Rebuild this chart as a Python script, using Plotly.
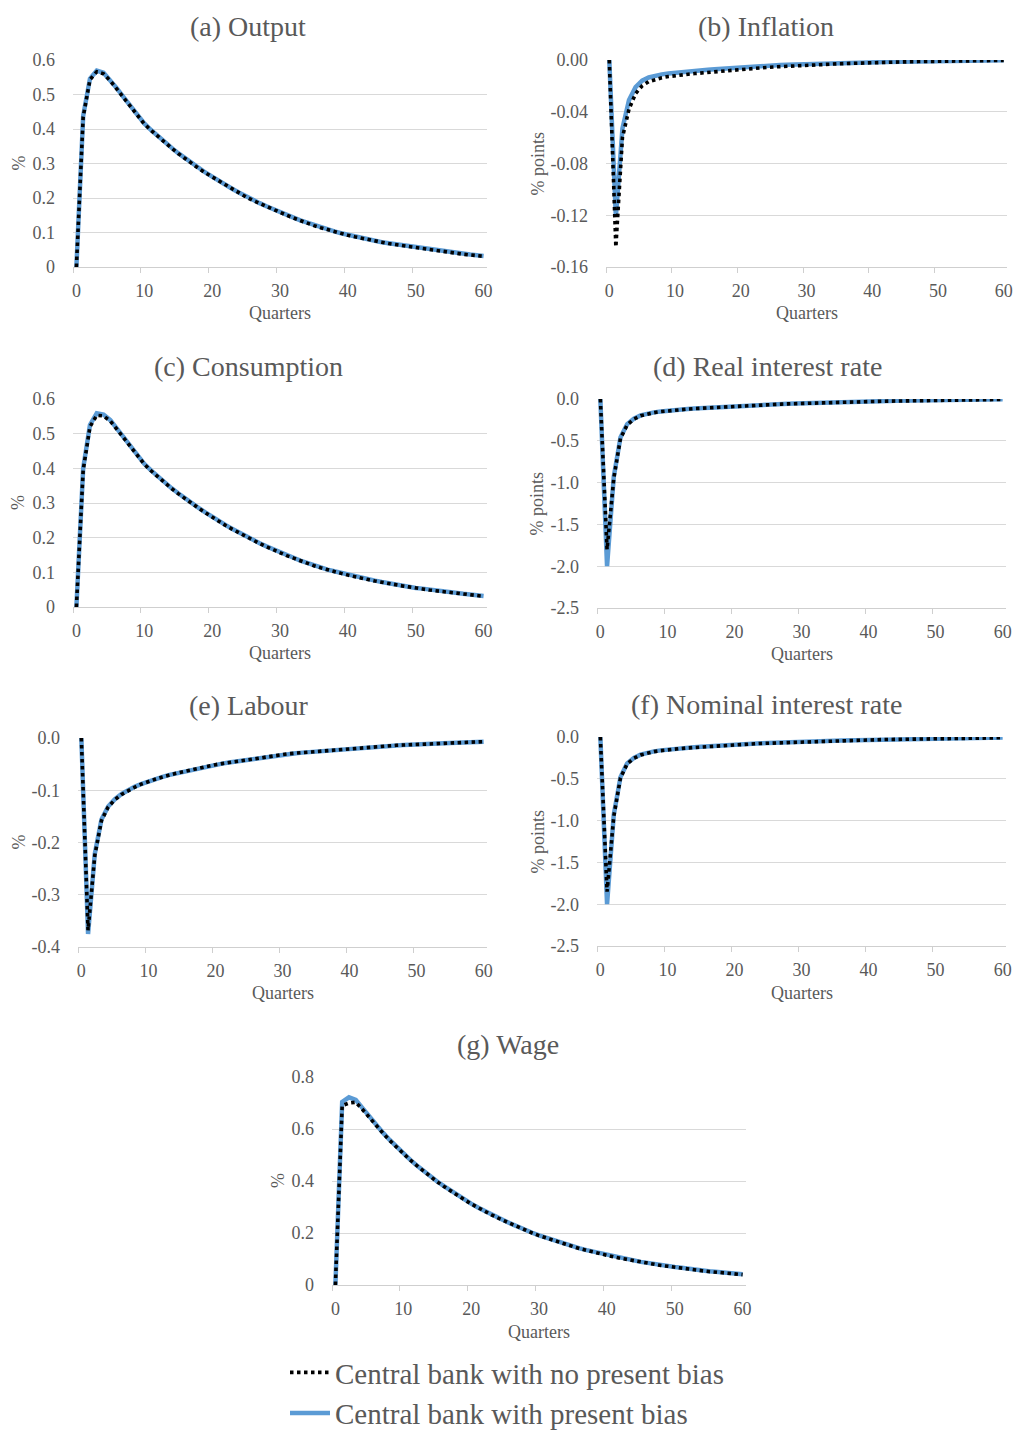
import plotly.graph_objects as go

W, H = 1014, 1430

# ---------------- data ----------------
quarters = list(range(61))
x_tick_vals = [0, 10, 20, 30, 40, 50, 60]
x_tick_text = ["0", "10", "20", "30", "40", "50", "60"]

output_nb = [0, 0.435, 0.543, 0.566, 0.56, 0.54, 0.515, 0.49, 0.464, 0.439, 0.415,
             0.396, 0.378, 0.361, 0.345, 0.329, 0.314, 0.300, 0.286, 0.273, 0.261,
             0.248, 0.236, 0.225, 0.214, 0.203, 0.193, 0.184, 0.175, 0.166, 0.158,
             0.150, 0.142, 0.134, 0.127, 0.120, 0.114, 0.108, 0.102, 0.097, 0.092,
             0.0875, 0.083, 0.079, 0.075, 0.072, 0.068, 0.065, 0.062, 0.059, 0.056,
             0.053, 0.050, 0.047, 0.044, 0.042, 0.039, 0.037, 0.035, 0.033, 0.031]
output_pb = [0, 0.438, 0.546, 0.569, 0.563, 0.542, 0.517, 0.491, 0.465, 0.440, 0.416,
             0.397, 0.379, 0.362, 0.346, 0.330, 0.315, 0.301, 0.287, 0.274, 0.262,
             0.249, 0.237, 0.226, 0.215, 0.204, 0.194, 0.185, 0.176, 0.167, 0.159,
             0.151, 0.143, 0.135, 0.128, 0.121, 0.115, 0.109, 0.103, 0.098, 0.093,
             0.088, 0.084, 0.080, 0.076, 0.072, 0.069, 0.066, 0.063, 0.060, 0.057,
             0.054, 0.051, 0.048, 0.045, 0.043, 0.040, 0.038, 0.036, 0.034, 0.032]

inflation_nb = [0, -0.1445, -0.06, -0.038, -0.026, -0.02, -0.0167, -0.0149, -0.0137, -0.0128, -0.012,
                -0.0115, -0.011, -0.0105, -0.01, -0.0095, -0.009, -0.0086, -0.0082, -0.0077, -0.0073,
                -0.0069, -0.0065, -0.0061, -0.0057, -0.0054, -0.0051, -0.0047, -0.0044, -0.0042, -0.0039,
                -0.0037, -0.0035, -0.0033, -0.0031, -0.0029, -0.0027, -0.0025, -0.0023, -0.0022, -0.002,
                -0.0019, -0.0018, -0.0016, -0.0015, -0.0014, -0.0013, -0.0012, -0.0011, -0.001, -0.0009,
                -0.0008, -0.0008, -0.0007, -0.0006, -0.0006, -0.0005, -0.0005, -0.0004, -0.0004, -0.0003]
inflation_pb = [0, -0.121, -0.053, -0.031, -0.021, -0.016, -0.0135, -0.012, -0.0111, -0.0104, -0.0098,
                -0.0093, -0.0088, -0.0083, -0.0079, -0.0075, -0.0071, -0.0067, -0.0063, -0.0059, -0.0055,
                -0.0052, -0.0049, -0.0046, -0.0043, -0.0041, -0.0039, -0.0037, -0.0035, -0.0033, -0.0031,
                -0.0029, -0.0028, -0.0026, -0.0025, -0.0023, -0.0022, -0.0021, -0.002, -0.0019, -0.0018,
                -0.0017, -0.0016, -0.0015, -0.0014, -0.0013, -0.0012, -0.0011, -0.001, -0.0009, -0.0008,
                -0.0007, -0.0007, -0.0006, -0.0005, -0.0005, -0.0004, -0.0004, -0.0003, -0.0003, -0.0002]

consumption_nb = [0, 0.395, 0.52, 0.553, 0.551, 0.536, 0.512, 0.487, 0.461, 0.436, 0.412,
                  0.393, 0.375, 0.358, 0.342, 0.327, 0.312, 0.298, 0.285, 0.272, 0.259,
                  0.247, 0.235, 0.224, 0.213, 0.202, 0.192, 0.183, 0.174, 0.165, 0.156,
                  0.148, 0.141, 0.133, 0.126, 0.119, 0.113, 0.107, 0.102, 0.097, 0.092,
                  0.087, 0.083, 0.079, 0.075, 0.071, 0.067, 0.064, 0.061, 0.058, 0.054,
                  0.052, 0.049, 0.047, 0.044, 0.042, 0.039, 0.037, 0.035, 0.033, 0.031]
consumption_pb = [0, 0.400, 0.525, 0.559, 0.555, 0.539, 0.514, 0.489, 0.463, 0.437, 0.413,
                  0.394, 0.376, 0.359, 0.343, 0.328, 0.313, 0.299, 0.286, 0.273, 0.260,
                  0.248, 0.236, 0.225, 0.214, 0.203, 0.193, 0.184, 0.175, 0.166, 0.157,
                  0.149, 0.142, 0.134, 0.127, 0.120, 0.114, 0.108, 0.103, 0.098, 0.093,
                  0.088, 0.084, 0.080, 0.076, 0.072, 0.068, 0.065, 0.062, 0.059, 0.055,
                  0.053, 0.050, 0.048, 0.045, 0.043, 0.040, 0.038, 0.036, 0.034, 0.032]

real_nb = [0, -1.8, -0.95, -0.47, -0.31, -0.24, -0.2, -0.178, -0.163, -0.151, -0.141,
           -0.134, -0.127, -0.121, -0.115, -0.11, -0.105, -0.1, -0.095, -0.09, -0.086,
           -0.082, -0.078, -0.074, -0.071, -0.067, -0.064, -0.061, -0.058, -0.055, -0.052,
           -0.05, -0.047, -0.045, -0.042, -0.04, -0.038, -0.036, -0.034, -0.032, -0.03,
           -0.029, -0.027, -0.026, -0.024, -0.023, -0.022, -0.021, -0.019, -0.018, -0.017,
           -0.016, -0.015, -0.014, -0.013, -0.012, -0.011, -0.01, -0.009, -0.007, -0.005]
real_pb = [0, -2.0, -0.93, -0.46, -0.30, -0.235, -0.196, -0.175, -0.160, -0.149, -0.139,
           -0.132, -0.125, -0.119, -0.113, -0.108, -0.103, -0.098, -0.093, -0.088, -0.084,
           -0.080, -0.076, -0.072, -0.069, -0.065, -0.062, -0.059, -0.056, -0.053, -0.050,
           -0.048, -0.045, -0.043, -0.040, -0.038, -0.036, -0.034, -0.032, -0.030, -0.028,
           -0.027, -0.025, -0.024, -0.022, -0.021, -0.020, -0.019, -0.017, -0.016, -0.015,
           -0.014, -0.013, -0.012, -0.011, -0.010, -0.009, -0.008, -0.007, -0.006, -0.004]

labour_nb = [0, -0.368, -0.225, -0.158, -0.132, -0.118, -0.108, -0.1, -0.094, -0.088, -0.083,
             -0.079, -0.075, -0.071, -0.068, -0.065, -0.062, -0.059, -0.056, -0.053, -0.051,
             -0.049, -0.047, -0.045, -0.043, -0.041, -0.039, -0.037, -0.035, -0.033, -0.031,
             -0.03, -0.029, -0.028, -0.027, -0.025, -0.024, -0.023, -0.022, -0.021, -0.0195,
             -0.019, -0.018, -0.017, -0.016, -0.0155, -0.015, -0.014, -0.0135, -0.013, -0.012,
             -0.0115, -0.011, -0.0105, -0.01, -0.0095, -0.009, -0.0085, -0.008, -0.0075, -0.007]
labour_pb = [0, -0.375, -0.222, -0.156, -0.131, -0.117, -0.107, -0.099, -0.093, -0.088, -0.083,
             -0.079, -0.075, -0.071, -0.068, -0.065, -0.062, -0.059, -0.056, -0.053, -0.051,
             -0.049, -0.047, -0.045, -0.043, -0.041, -0.039, -0.037, -0.035, -0.033, -0.031,
             -0.03, -0.029, -0.028, -0.027, -0.025, -0.024, -0.023, -0.022, -0.021, -0.0195,
             -0.019, -0.018, -0.017, -0.016, -0.0155, -0.015, -0.014, -0.0135, -0.013, -0.012,
             -0.0115, -0.011, -0.0105, -0.01, -0.0095, -0.009, -0.0085, -0.008, -0.0075, -0.007]

nominal_nb = [0, -1.85, -0.95, -0.49, -0.32, -0.255, -0.215, -0.19, -0.175, -0.163, -0.152,
              -0.145, -0.138, -0.131, -0.125, -0.119, -0.113, -0.108, -0.103, -0.098, -0.093,
              -0.089, -0.085, -0.081, -0.077, -0.074, -0.07, -0.067, -0.064, -0.061, -0.058,
              -0.055, -0.052, -0.05, -0.047, -0.045, -0.043, -0.041, -0.039, -0.037, -0.035,
              -0.033, -0.031, -0.03, -0.028, -0.027, -0.025, -0.024, -0.023, -0.021, -0.02,
              -0.019, -0.018, -0.017, -0.016, -0.015, -0.014, -0.013, -0.011, -0.01, -0.008]
nominal_pb = [0, -2.0, -0.93, -0.48, -0.315, -0.25, -0.211, -0.187, -0.172, -0.16, -0.15,
              -0.143, -0.136, -0.129, -0.123, -0.117, -0.111, -0.106, -0.101, -0.096, -0.091,
              -0.087, -0.083, -0.079, -0.075, -0.072, -0.068, -0.065, -0.062, -0.059, -0.056,
              -0.053, -0.051, -0.048, -0.046, -0.044, -0.042, -0.040, -0.038, -0.036, -0.034,
              -0.032, -0.030, -0.029, -0.027, -0.026, -0.024, -0.023, -0.022, -0.020, -0.019,
              -0.018, -0.017, -0.016, -0.015, -0.014, -0.013, -0.012, -0.010, -0.009, -0.007]

wage_nb = [0, 0.69, 0.70, 0.703, 0.675, 0.643, 0.613, 0.584, 0.556, 0.53, 0.505,
           0.481, 0.459, 0.437, 0.417, 0.397, 0.379, 0.361, 0.344, 0.328, 0.312,
           0.297, 0.283, 0.27, 0.257, 0.245, 0.233, 0.221, 0.21, 0.2, 0.19,
           0.181, 0.172, 0.163, 0.155, 0.148, 0.14, 0.133, 0.127, 0.12, 0.114,
           0.108, 0.103, 0.098, 0.093, 0.088, 0.084, 0.079, 0.075, 0.072, 0.068,
           0.065, 0.061, 0.058, 0.055, 0.052, 0.05, 0.047, 0.045, 0.043, 0.04]
wage_pb = [0, 0.704, 0.722, 0.712, 0.68, 0.647, 0.616, 0.586, 0.558, 0.531, 0.506,
           0.482, 0.46, 0.438, 0.418, 0.398, 0.38, 0.362, 0.345, 0.329, 0.313,
           0.298, 0.284, 0.271, 0.258, 0.246, 0.234, 0.222, 0.211, 0.201, 0.191,
           0.182, 0.173, 0.164, 0.156, 0.149, 0.141, 0.134, 0.128, 0.121, 0.115,
           0.109, 0.104, 0.099, 0.094, 0.089, 0.085, 0.08, 0.076, 0.073, 0.069,
           0.066, 0.062, 0.059, 0.056, 0.053, 0.051, 0.048, 0.046, 0.044, 0.041]

yticks_pos06 = [0, 0.1, 0.2, 0.3, 0.4, 0.5, 0.6]
yticks_pos06_text = ["0", "0.1", "0.2", "0.3", "0.4", "0.5", "0.6"]
yticks_infl = [0, -0.04, -0.08, -0.12, -0.16]
yticks_infl_text = ["0.00", "-0.04", "-0.08", "-0.12", "-0.16"]
yticks_rate = [0, -0.5, -1.0, -1.5, -2.0, -2.5]
yticks_rate_text = ["0.0", "-0.5", "-1.0", "-1.5", "-2.0", "-2.5"]
yticks_lab = [0, -0.1, -0.2, -0.3, -0.4]
yticks_lab_text = ["0.0", "-0.1", "-0.2", "-0.3", "-0.4"]
yticks_wage = [0, 0.2, 0.4, 0.6, 0.8]
yticks_wage_text = ["0", "0.2", "0.4", "0.6", "0.8"]

name_nb = "Central bank with no present bias"
name_pb = "Central bank with present bias"

# ---------------- style / layout constants ----------------
FONT = "Liberation Serif, Times New Roman, serif"
TXT = "#595959"
GRID = "#d9d9d9"
AXIS = "#cfcfcf"
BLUE = "#5b9bd5"

# panel boxes in pixels: (left, right, top, bottom), title centre, x-title y, y-title x
panels = [
    dict(title="(a) Output", yt="%", nb=output_nb, pb=output_pb, yr=[0, 0.6],
         tv=yticks_pos06, tt=yticks_pos06_text, box=(73, 487, 60, 267),
         tx=248, ty=27, qy=313, yx=18),
    dict(title="(b) Inflation", yt="% points", nb=inflation_nb, pb=inflation_pb, yr=[-0.16, 0],
         tv=yticks_infl, tt=yticks_infl_text, box=(606, 1007, 60, 267),
         tx=766, ty=27, qy=313, yx=537),
    dict(title="(c) Consumption", yt="%", nb=consumption_nb, pb=consumption_pb, yr=[0, 0.6],
         tv=yticks_pos06, tt=yticks_pos06_text, box=(73, 487, 399, 607),
         tx=248, ty=366, qy=653, yx=18),
    dict(title="(d) Real interest rate", yt="% points", nb=real_nb, pb=real_pb, yr=[-2.5, 0],
         tv=yticks_rate, tt=yticks_rate_text, box=(597, 1006, 399, 608),
         tx=767, ty=366, qy=654, yx=537),
    dict(title="(e) Labour", yt="%", nb=labour_nb, pb=labour_pb, yr=[-0.4, 0],
         tv=yticks_lab, tt=yticks_lab_text, box=(78, 487, 738, 947),
         tx=249, ty=705, qy=993, yx=18),
    dict(title="(f) Nominal interest rate", yt="% points", nb=nominal_nb, pb=nominal_pb, yr=[-2.5, 0],
         tv=yticks_rate, tt=yticks_rate_text, box=(597, 1006, 737, 946),
         tx=766, ty=704, qy=993, yx=537),
    dict(title="(g) Wage", yt="%", nb=wage_nb, pb=wage_pb, yr=[0, 0.8],
         tv=yticks_wage, tt=yticks_wage_text, box=(332, 746, 1077, 1285),
         tx=508, ty=1044, qy=1332, yx=278),
]

x_minor = [v - 0.5 for v in x_tick_vals[:-1]]

fig = go.Figure()
layout = {}
annotations = []
for i, p in enumerate(panels):
    n = i + 1
    xa = "x" if n == 1 else f"x{n}"
    ya = "y" if n == 1 else f"y{n}"
    xk = "xaxis" if n == 1 else f"xaxis{n}"
    yk = "yaxis" if n == 1 else f"yaxis{n}"
    fig.add_trace(go.Scatter(x=quarters, y=p["pb"], mode="lines", name=name_pb,
                             line=dict(color=BLUE, width=4.5), showlegend=(i == 0),
                             legendrank=2, xaxis=xa, yaxis=ya, hoverinfo="skip"))
    fig.add_trace(go.Scatter(x=quarters, y=p["nb"], mode="lines", name=name_nb,
                             line=dict(color="black", width=3.6, dash="3.5px,3.5px"),
                             showlegend=(i == 0), legendrank=1, xaxis=xa, yaxis=ya,
                             hoverinfo="skip"))
    L, R, T, B = p["box"]
    layout[xk] = dict(domain=[L / W, R / W], anchor=ya, range=[-0.5, 60.5],
                      tickmode="array", tickvals=x_tick_vals, ticktext=x_tick_text,
                      ticks="", showgrid=False, zeroline=False, showline=True,
                      linecolor=AXIS, linewidth=1, ticklabelstandoff=7,
                      tickfont=dict(family=FONT, size=18, color=TXT),
                      minor=dict(tickmode="array", tickvals=x_minor, ticks="outside",
                                 ticklen=5, tickwidth=1, tickcolor=AXIS, showgrid=False),
                      fixedrange=True)
    layout[yk] = dict(domain=[1 - B / H, 1 - T / H], anchor=xa, range=p["yr"],
                      tickmode="array", tickvals=p["tv"], ticktext=p["tt"],
                      ticks="", showgrid=True, gridcolor=GRID, gridwidth=1,
                      zeroline=False, showline=False, ticklabelstandoff=17,
                      tickfont=dict(family=FONT, size=18, color=TXT), fixedrange=True)
    annotations.append(dict(text=p["title"], x=p["tx"] / W, y=1 - p["ty"] / H,
                            xref="paper", yref="paper", showarrow=False,
                            xanchor="center", yanchor="middle",
                            font=dict(family=FONT, size=28, color=TXT)))
    annotations.append(dict(text="Quarters", x=(L + R) / 2 / W, y=1 - p["qy"] / H,
                            xref="paper", yref="paper", showarrow=False,
                            xanchor="center", yanchor="middle",
                            font=dict(family=FONT, size=18, color=TXT)))
    annotations.append(dict(text=p["yt"], x=p["yx"] / W, y=1 - (T + B) / 2 / H,
                            xref="paper", yref="paper", showarrow=False, textangle=-90,
                            xanchor="center", yanchor="middle",
                            font=dict(family=FONT, size=18, color=TXT)))

fig.update_layout(
    width=W, height=H, margin=dict(l=0, r=0, t=0, b=0, pad=0, autoexpand=False),
    paper_bgcolor="white", plot_bgcolor="white",
    hovermode=False, annotations=annotations,
    legend=dict(x=285 / W, y=1 - 1347 / H, xanchor="left", yanchor="top",
                font=dict(family=FONT, size=29, color=TXT), bgcolor="rgba(0,0,0,0)",
                itemwidth=40, tracegroupgap=0),
    **layout,
)

fig.write_html(
    "out.html",
    config={"displayModeBar": False},
    post_script="document.body.style.margin='0px';document.body.style.overflow='hidden';",
)
